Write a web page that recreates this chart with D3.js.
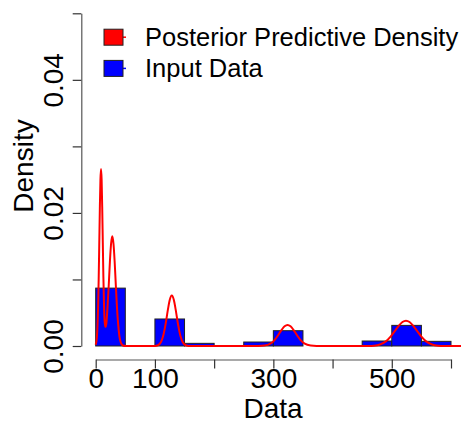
<!DOCTYPE html>
<html>
<head>
<meta charset="utf-8">
<script src="https://cdn.jsdelivr.net/npm/d3@7"></script>
<style>
  html, body { margin: 0; padding: 0; background: #fff; }
  svg { display: block; font-family: "Liberation Sans", Arial, Helvetica, sans-serif; }
</style>
</head>
<body>
<svg id="chart" width="461" height="426"></svg>
<script>
// ---- data ----
const binEdges = [0, 50, 100, 150, 200, 250, 300, 350, 400, 450, 500, 550, 600];
const binDensity = [0.0087, 0, 0.00406, 0.0004, 0, 0.0006, 0.0023, 0, 0, 0.00075, 0.0031, 0.0007];

const curveX = [0, 2, 4, 5, 6, 7, 8, 9, 10, 11, 12, 13, 14, 15, 16, 17, 18, 20, 22, 24, 26, 28, 30, 32, 34, 36, 38, 40, 42, 44, 46, 50,
  100, 105, 110, 114, 118, 122, 125, 128.5, 132, 135, 139, 143, 147, 152, 157,
  275, 285, 295, 302, 308, 314, 319, 324, 329, 334, 340, 346, 353, 363, 373,
  460, 470, 480, 490, 498, 505, 512, 518, 524, 530, 536, 543, 550, 558, 568, 578, 588, 625];
const curveY = [0.00018, 0.0013, 0.0057, 0.0099, 0.0152, 0.0207, 0.0250, 0.0266, 0.0250, 0.0209, 0.0155, 0.0103, 0.0063, 0.0039, 0.0029, 0.0029, 0.0034, 0.0059, 0.0091, 0.0127, 0.0154, 0.0165, 0.0154, 0.0127, 0.0091, 0.0057, 0.0032, 0.0015, 0.00065, 0.00024, 0.00008, 0,
  0.000016, 0.00011, 0.00056, 0.00153, 0.00328, 0.00551, 0.00692, 0.0076, 0.00692, 0.00551, 0.00328, 0.00153, 0.00056, 0.00011, 0.000016,
  0.000006, 0.00006, 0.00035, 0.00089, 0.00161, 0.00243, 0.00296, 0.00316, 0.00296, 0.00243, 0.00161, 0.00089, 0.00035, 0.00006, 0,
  0.000009, 0.00005, 0.00022, 0.00069, 0.0014, 0.00223, 0.00307, 0.0036, 0.0038, 0.0036, 0.00307, 0.00223, 0.0014, 0.00069, 0.00022, 0.00005, 0.000009, 0];

const xTicks = [0, 100, 200, 300, 400, 500, 600];
const xTickLabels = ["0", "100", "", "300", "", "500", ""];
const yTicks = [0, 0.01, 0.02, 0.03, 0.04, 0.05];
const yTickLabels = ["0.00", "", "0.02", "", "0.04", ""];

const legendLabels = ["Posterior Predictive Density", "Input Data"];
const legendColors = ["#ff0000", "#0000ff"];
const xTitle = "Data";
const yTitle = "Density";

// ---- drawing ----
const svg = d3.select("#chart");
const x = d3.scaleLinear().domain([0, 600]).range([95.7, 451]);
const y = d3.scaleLinear().domain([0, 0.05]).range([346, 13.3]);

svg.append("defs").append("clipPath").attr("id", "plotclip")
  .append("rect").attr("x", 81.3).attr("y", 0).attr("width", 461 - 81.3).attr("height", 359);

// bars
const bins = binDensity.map((d, i) => ({ x0: binEdges[i], x1: binEdges[i + 1], d }));
svg.append("g").selectAll("rect").data(bins).join("rect")
  .attr("x", b => x(b.x0))
  .attr("width", b => x(b.x1) - x(b.x0))
  .attr("y", b => y(b.d))
  .attr("height", b => y(0) - y(b.d))
  .attr("fill", "#0000ff")
  .attr("stroke", "#222")
  .attr("stroke-width", 1);

// density curve
const pts = curveX.map((v, i) => [v, curveY[i]]);
const line = d3.line().x(d => x(d[0])).y(d => y(d[1])).curve(d3.curveMonotoneX);
svg.append("path").datum(pts)
  .attr("clip-path", "url(#plotclip)")
  .attr("d", line)
  .attr("fill", "none")
  .attr("stroke", "#ff0000")
  .attr("stroke-width", 2)
  .attr("stroke-linejoin", "round");

// x axis
const xAxis = d3.axisBottom(x).tickValues(xTicks).tickSize(9).tickSizeOuter(0)
  .tickFormat((d, i) => xTickLabels[i]);
const gx = svg.append("g").attr("transform", "translate(0,359.5)").call(xAxis);
gx.select(".domain").attr("stroke", "#555").attr("stroke-width", 1.2);
gx.selectAll(".tick line").attr("stroke", "#333").attr("stroke-width", 1.2);
gx.selectAll(".tick text")
  .attr("y", 28.5).attr("dy", 0)
  .attr("font-size", 28).attr("fill", "#000")
  .attr("font-family", "Liberation Sans, Arial, sans-serif");

// y axis
const yAxis = d3.axisLeft(y).tickValues(yTicks).tickSize(8.6).tickSizeOuter(0)
  .tickFormat((d, i) => yTickLabels[i]);
const gy = svg.append("g").attr("transform", "translate(81.3,0)").call(yAxis);
gy.select(".domain").attr("stroke", "#555").attr("stroke-width", 1.2);
gy.selectAll(".tick line").attr("stroke", "#333").attr("stroke-width", 1.2);
gy.selectAll(".tick text")
  .attr("x", null).attr("dy", null)
  .attr("transform", "translate(-18,0) rotate(-90)")
  .attr("text-anchor", "middle")
  .attr("font-size", 28).attr("fill", "#000")
  .attr("font-family", "Liberation Sans, Arial, sans-serif");

// titles
svg.append("text").attr("x", 273).attr("y", 418).attr("text-anchor", "middle")
  .attr("font-size", 28).attr("fill", "#000").text(xTitle);
svg.append("text").attr("transform", "translate(33,166) rotate(-90)").attr("text-anchor", "middle")
  .attr("font-size", 28).attr("fill", "#000").text(yTitle);

// legend
const lg = svg.append("g");
legendLabels.forEach((lab, i) => {
  const cy = 37.2 + i * 31.2;
  lg.append("line").attr("x1", 123).attr("x2", 126).attr("y1", cy).attr("y2", cy)
    .attr("stroke", legendColors[i]).attr("stroke-width", 1.5);
  lg.append("rect").attr("x", 104).attr("y", cy - 8).attr("width", 19).attr("height", 16)
    .attr("fill", legendColors[i]).attr("stroke", "#222").attr("stroke-width", 1);
  lg.append("text").attr("x", 145).attr("y", cy + 9).attr("font-size", 25.5)
    .attr("fill", "#000").text(lab);
});
</script>
</body>
</html>
